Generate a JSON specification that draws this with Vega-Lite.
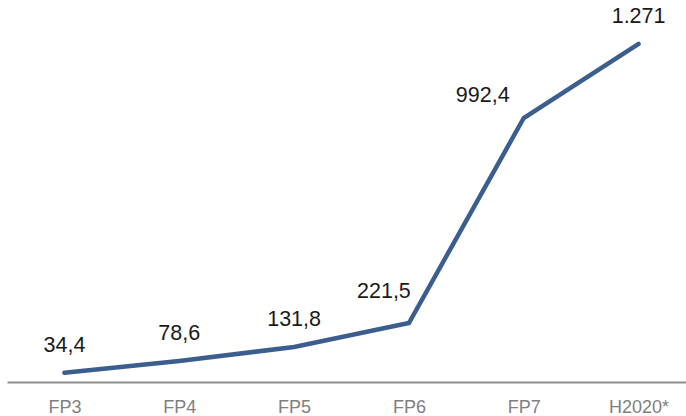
{
  "$schema": "https://vega.github.io/schema/vega-lite/v6.json",
  "width": 689,
  "height": 382,
  "autosize": "none",
  "padding": {"left": 7, "top": 0, "right": 0, "bottom": 34},
  "background": "white",
  "config": {"view": {"stroke": null}, "font": "Liberation Sans"},
  "data": {
    "values": [
      {"program": "FP3", "value": 34.4, "label": "34,4"},
      {"program": "FP4", "value": 78.6, "label": "78,6"},
      {"program": "FP5", "value": 131.8, "label": "131,8"},
      {"program": "FP6", "value": 221.5, "label": "221,5"},
      {"program": "FP7", "value": 992.4, "label": "992,4"},
      {"program": "H2020*", "value": 1271, "label": "1.271"}
    ]
  },
  "encoding": {
    "x": {
      "field": "program",
      "type": "ordinal",
      "sort": null,
      "scale": {"type": "point", "padding": 0.5},
      "axis": {
        "title": null,
        "labelAngle": 0,
        "ticks": false,
        "grid": false,
        "domainColor": "#8c8c8c",
        "domainWidth": 2,
        "labelColor": "#7f7f7f",
        "labelFontSize": 18,
        "labelFont": "Liberation Sans",
        "labelPadding": 16
      }
    },
    "y": {
      "field": "value",
      "type": "quantitative",
      "scale": {"domain": [0, 1436], "nice": false, "zero": true},
      "axis": null
    }
  },
  "layer": [
    {
      "mark": {"type": "line", "color": "#3b5e8f", "strokeWidth": 4.5, "strokeCap": "round", "strokeJoin": "miter"}
    },
    {
      "transform": [{"filter": "indexof(['FP3','FP4','FP5','H2020*'], datum.program) >= 0"}],
      "mark": {"type": "text", "fontSize": 21.5, "color": "#1a1a1a", "align": "center", "baseline": "middle", "dy": -27},
      "encoding": {"text": {"field": "label"}}
    },
    {
      "transform": [{"filter": "datum.program == 'FP6'"}],
      "mark": {"type": "text", "fontSize": 21.5, "color": "#1a1a1a", "align": "center", "baseline": "middle", "dx": -25, "dy": -31},
      "encoding": {"text": {"field": "label"}}
    },
    {
      "transform": [{"filter": "datum.program == 'FP7'"}],
      "mark": {"type": "text", "fontSize": 21.5, "color": "#1a1a1a", "align": "center", "baseline": "middle", "dx": -41, "dy": -22},
      "encoding": {"text": {"field": "label"}}
    }
  ]
}
